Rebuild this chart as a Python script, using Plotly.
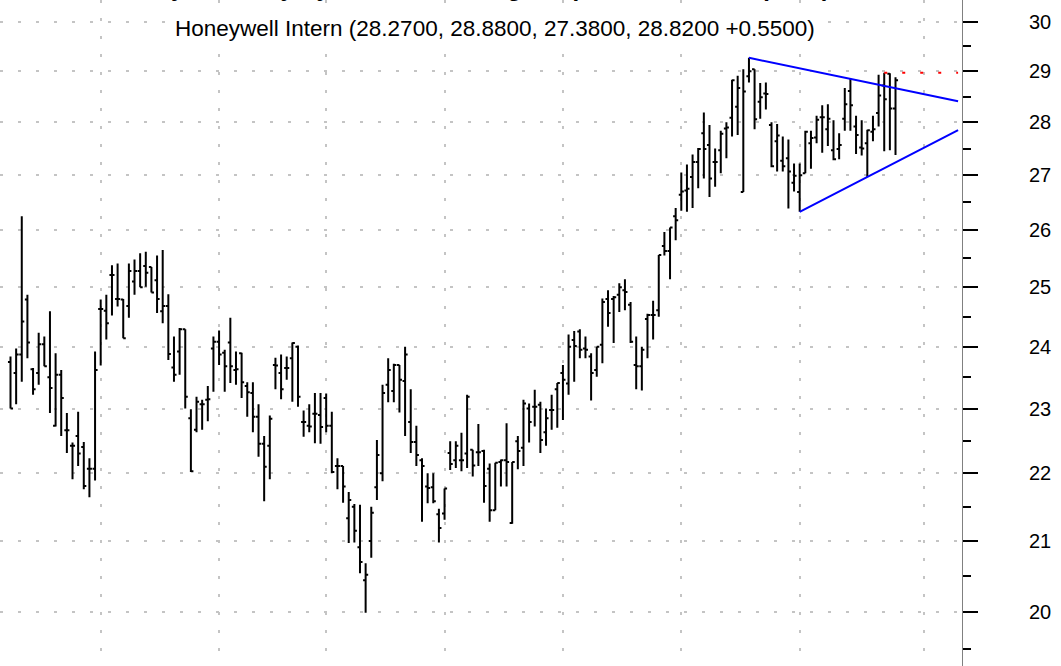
import math
import plotly.graph_objects as go

# ---------------- data ----------------
opens = [23.75, 23.57, 23.87, 24.79, 23.63, 23.57, 24.04, 23.50, 22.73, 23.54,
         22.66, 22.42, 22.57, 22.40, 22.07, 22.07, 24.63, 24.60, 25.21, 24.80,
         24.79, 24.68, 25.10, 25.28, 25.37, 25.35, 25.12, 24.59, 24.68, 23.66,
         23.92, 24.29, 22.85, 22.67, 23.07, 23.14, 23.97, 24.08, 23.90, 24.07,
         23.62, 23.89, 23.36, 23.25, 22.87, 22.45, 22.42, 23.70, 23.57, 23.65,
         23.81, 24.00, 22.79, 22.73, 22.92, 22.90, 23.17, 22.73, 22.11, 22.11,
         21.33, 21.50, 20.91, 20.44, 21.00, 21.79, 22.00, 23.38, 23.28, 23.70,
         23.44, 22.79, 22.48, 22.20, 21.80, 21.79, 21.39, 21.40, 22.31, 22.20,
         22.20, 22.30, 22.36, 22.32, 22.34, 22.07, 21.45, 22.17, 22.20, 21.26,
         22.49, 22.39, 23.00, 23.03, 23.06, 22.63, 22.98, 23.31, 23.57, 23.40,
         24.11, 24.25, 23.97, 23.84, 23.62, 24.03, 24.80, 24.80, 24.87, 24.95,
         24.70, 23.70, 23.68, 24.46, 24.53, 24.61, 25.72, 25.63, 26.25, 26.64,
         26.72, 26.97, 27.25, 27.79, 27.57, 27.25, 27.47, 27.88, 28.09, 28.30,
         26.69, 28.90, 29.04, 28.40, 28.56, 27.95, 27.64, 27.27, 27.32, 26.86,
         26.69, 27.04, 27.60, 27.71, 28.10, 27.87, 27.47, 27.49, 28.07, 28.61,
         27.92, 27.52, 27.60, 27.82, 28.18, 28.72, 28.95, 28.27]
highs = [23.84, 23.97, 26.25, 24.87, 23.65, 24.23, 24.17, 24.59, 23.89, 23.62,
         22.93, 22.47, 22.95, 22.48, 22.23, 23.92, 24.79, 24.87, 25.38, 25.41,
         24.80, 25.41, 25.48, 25.59, 25.62, 25.35, 25.55, 25.65, 24.88, 24.17,
         24.31, 24.29, 22.99, 23.19, 23.14, 23.36, 24.17, 24.27, 23.95, 24.48,
         23.92, 23.90, 23.42, 23.42, 23.07, 22.57, 22.89, 23.82, 23.87, 23.84,
         24.07, 24.02, 22.97, 23.07, 23.25, 23.25, 23.24, 22.95, 22.23, 22.11,
         21.72, 21.54, 21.53, 20.68, 21.50, 22.51, 23.38, 23.81, 23.72, 23.70,
         24.00, 23.31, 22.73, 22.23, 22.00, 22.00, 21.47, 21.77, 22.49, 22.49,
         22.62, 23.22, 22.36, 22.76, 22.36, 22.15, 22.16, 22.21, 22.77, 22.17,
         22.57, 23.14, 23.08, 23.30, 23.11, 23.00, 23.22, 23.41, 23.70, 24.20,
         24.26, 24.29, 24.17, 23.89, 24.00, 24.81, 24.95, 24.85, 25.07, 25.14,
         24.75, 24.17, 24.00, 24.55, 24.77, 25.56, 25.97, 26.05, 26.40, 27.05,
         27.20, 27.39, 27.51, 28.19, 27.95, 27.50, 27.84, 28.00, 28.83, 28.91,
         29.04, 29.27, 29.04, 28.77, 28.78, 28.00, 27.97, 27.73, 27.67, 27.22,
         27.22, 27.84, 27.84, 28.13, 28.33, 28.35, 28.04, 27.79, 28.67, 28.85,
         28.13, 28.04, 27.86, 28.13, 28.93, 28.97, 28.96, 28.88]
lows = [23.00, 23.07, 23.43, 23.81, 23.22, 23.38, 23.68, 22.93, 22.72, 22.57,
        22.31, 21.91, 22.11, 21.76, 21.64, 21.89, 23.69, 24.12, 24.52, 24.67,
        24.14, 24.48, 24.87, 25.00, 25.01, 24.91, 24.56, 24.39, 23.78, 23.43,
        23.54, 23.00, 22.02, 22.63, 22.67, 22.80, 23.27, 23.70, 23.27, 23.41,
        23.38, 23.17, 22.87, 22.63, 22.25, 21.58, 21.91, 23.31, 23.15, 23.46,
        23.11, 23.03, 22.56, 22.63, 22.46, 22.45, 22.63, 22.00, 21.76, 21.56,
        20.97, 20.98, 20.54, 19.99, 20.76, 21.60, 21.88, 23.10, 23.10, 22.94,
        22.57, 22.31, 22.11, 21.28, 21.55, 21.55, 20.98, 21.31, 22.05, 22.08,
        22.03, 22.08, 21.95, 22.11, 21.56, 21.28, 21.45, 21.80, 21.80, 21.25,
        22.06, 22.11, 22.47, 22.72, 22.31, 22.42, 22.67, 22.70, 22.82, 23.22,
        23.43, 23.81, 23.81, 23.13, 23.51, 23.73, 24.33, 24.06, 24.58, 24.61,
        24.06, 23.31, 23.29, 23.81, 24.12, 24.50, 25.55, 25.14, 25.82, 26.35,
        26.33, 26.40, 26.76, 26.94, 26.60, 26.79, 27.04, 27.32, 27.73, 27.76,
        26.69, 28.78, 27.87, 28.07, 28.25, 27.15, 27.07, 27.07, 26.39, 26.70,
        26.33, 27.04, 27.12, 27.60, 27.42, 27.55, 27.28, 27.30, 27.84, 27.84,
        27.40, 27.37, 26.97, 27.64, 27.92, 27.45, 27.47, 27.38]
closes = [23.00, 23.87, 24.42, 24.07, 23.31, 24.04, 23.68, 23.33, 23.54, 23.17,
          22.66, 22.42, 22.30, 21.81, 22.07, 23.62, 24.63, 24.39, 25.21, 24.80,
          24.14, 25.28, 25.28, 25.00, 25.25, 24.91, 24.80, 24.68, 23.88, 23.54,
          24.29, 23.19, 22.03, 23.11, 23.07, 23.15, 24.08, 23.87, 23.68, 23.68,
          23.63, 23.42, 23.26, 22.87, 22.45, 22.10, 22.84, 23.69, 23.31, 23.65,
          24.06, 23.19, 22.79, 22.72, 22.92, 22.71, 22.73, 22.02, 22.11, 21.80,
          21.60, 21.15, 20.70, 20.52, 21.41, 22.28, 23.25, 23.62, 23.70, 23.46,
          23.87, 22.48, 22.28, 22.11, 21.78, 21.58, 21.19, 21.77, 22.14, 22.42,
          22.20, 23.19, 22.12, 22.32, 21.81, 21.45, 22.16, 22.20, 22.17, 22.17,
          22.34, 23.08, 22.79, 23.03, 22.51, 22.85, 22.98, 23.41, 23.46, 24.00,
          24.01, 23.95, 23.95, 23.57, 24.00, 24.75, 24.56, 24.83, 25.00, 24.92,
          24.08, 23.68, 23.95, 24.53, 24.53, 25.56, 25.63, 26.05, 26.18, 26.70,
          26.75, 27.25, 27.49, 27.49, 26.94, 27.25, 27.78, 27.90, 28.82, 28.67,
          28.60, 29.00, 28.06, 28.49, 28.55, 27.17, 27.75, 27.17, 27.07, 26.99,
          27.00, 27.82, 27.70, 28.05, 28.10, 28.07, 27.30, 27.57, 28.35, 28.33,
          27.76, 27.50, 27.85, 27.87, 28.52, 28.45, 28.27, 28.82]
bar_index = list(range(len(closes)))

month_start_bars = [16, 37, 56, 77, 98, 119, 140, 162]
price_ticks = [20, 21, 22, 23, 24, 25, 26, 27, 28, 29, 30]
minor_ticks = [19.5, 20.5, 21.5, 22.5, 23.5, 24.5, 25.5, 26.5, 27.5, 28.5, 29.5]

upper_pivot_bars = [131, 149]
upper_pivot_prices = [29.27, 28.85]
lower_pivot_bars = [140, 152]
lower_pivot_prices = [26.33, 26.97]
line_end_bar = 168.1
resistance_start_bar = 155
resistance_level = 28.97

title_text = "Honeywell Daily Symmetrical Triangle, Upward Breakout (2003)"
subtitle_text = "Honeywell Intern (28.2700, 28.8800, 27.3800, 28.8200 +0.5500)"


def extend(bars, prices, end_bar):
    l0, l1 = math.log10(prices[0]), math.log10(prices[1])
    slope = (l1 - l0) / (bars[1] - bars[0])
    return [bars[0], end_bar], [prices[0], 10 ** (l0 + slope * (end_bar - bars[0]))]


ux, uy = extend(upper_pivot_bars, upper_pivot_prices, line_end_bar)
lx, ly = extend(lower_pivot_bars, lower_pivot_prices, line_end_bar)

fig = go.Figure()
fig.add_trace(go.Ohlc(
    x=bar_index, open=opens, high=highs, low=lows, close=closes,
    increasing=dict(line=dict(color="black", width=2)),
    decreasing=dict(line=dict(color="black", width=2)),
    tickwidth=0.45, hoverinfo="skip", showlegend=False))
fig.add_trace(go.Scatter(x=ux, y=uy, mode="lines",
                         line=dict(color="#0000ff", width=2),
                         hoverinfo="skip", showlegend=False))
fig.add_trace(go.Scatter(x=lx, y=ly, mode="lines",
                         line=dict(color="#0000ff", width=2),
                         hoverinfo="skip", showlegend=False))
fig.add_trace(go.Scatter(x=[resistance_start_bar, line_end_bar],
                         y=[resistance_level, resistance_level], mode="lines",
                         line=dict(color="red", width=2, dash="3px,15px"),
                         hoverinfo="skip", showlegend=False))

PLOT_W = 962
H = 666
px_per_bar = 5.637
x_left = -10.5 / px_per_bar
x_right = x_left + PLOT_W / px_per_bar

fig.update_layout(
    width=1061, height=H,
    margin=dict(l=0, r=1061 - PLOT_W, t=0, b=0),
    paper_bgcolor="white", plot_bgcolor="white",
    showlegend=False,
    xaxis=dict(range=[x_left, x_right], tickvals=month_start_bars,
               showticklabels=False, ticks="", showgrid=True,
               gridcolor="#c4c4c4", gridwidth=1.5, griddash="3px,15px",
               zeroline=False, showline=False,
               rangeslider=dict(visible=False), fixedrange=True),
    yaxis=dict(type="log", range=[1.28491, 1.48368], side="right",
               tickvals=price_ticks, ticktext=[str(v) for v in price_ticks],
               ticks="outside", ticklen=15, tickwidth=2, tickcolor="black",
               showline=True, linecolor="#808080", linewidth=1,
               showgrid=True, gridcolor="#c4c4c4", gridwidth=1.5,
               griddash="3px,15px", zeroline=False, automargin=False,
               ticklabelstandoff=47,
               tickfont=dict(family="Liberation Sans, Arial, sans-serif",
                             size=20, color="black"),
               minor=dict(tickvals=minor_ticks, ticks="outside", ticklen=8,
                          tickwidth=2, tickcolor="black", showgrid=False),
               fixedrange=True),
    annotations=[
        dict(text=subtitle_text, xref="paper", yref="paper",
             x=495 / PLOT_W, y=1 - 28 / H, xanchor="center", yanchor="middle",
             showarrow=False, bgcolor="white",
             font=dict(family="Liberation Sans, Arial, sans-serif",
                       size=22.5, color="black")),
        dict(text="<b>" + title_text + "</b>", xref="paper", yref="paper",
             x=470 / PLOT_W, y=1 + 13 / H, xanchor="center", yanchor="middle",
             showarrow=False,
             font=dict(family="Liberation Sans, Arial, sans-serif",
                       size=24, color="black")),
    ],
)

fig.write_html("out.html", config={"displayModeBar": False},
               post_script="document.body.style.margin='0px';"
                           "document.body.style.overflow='hidden';")
